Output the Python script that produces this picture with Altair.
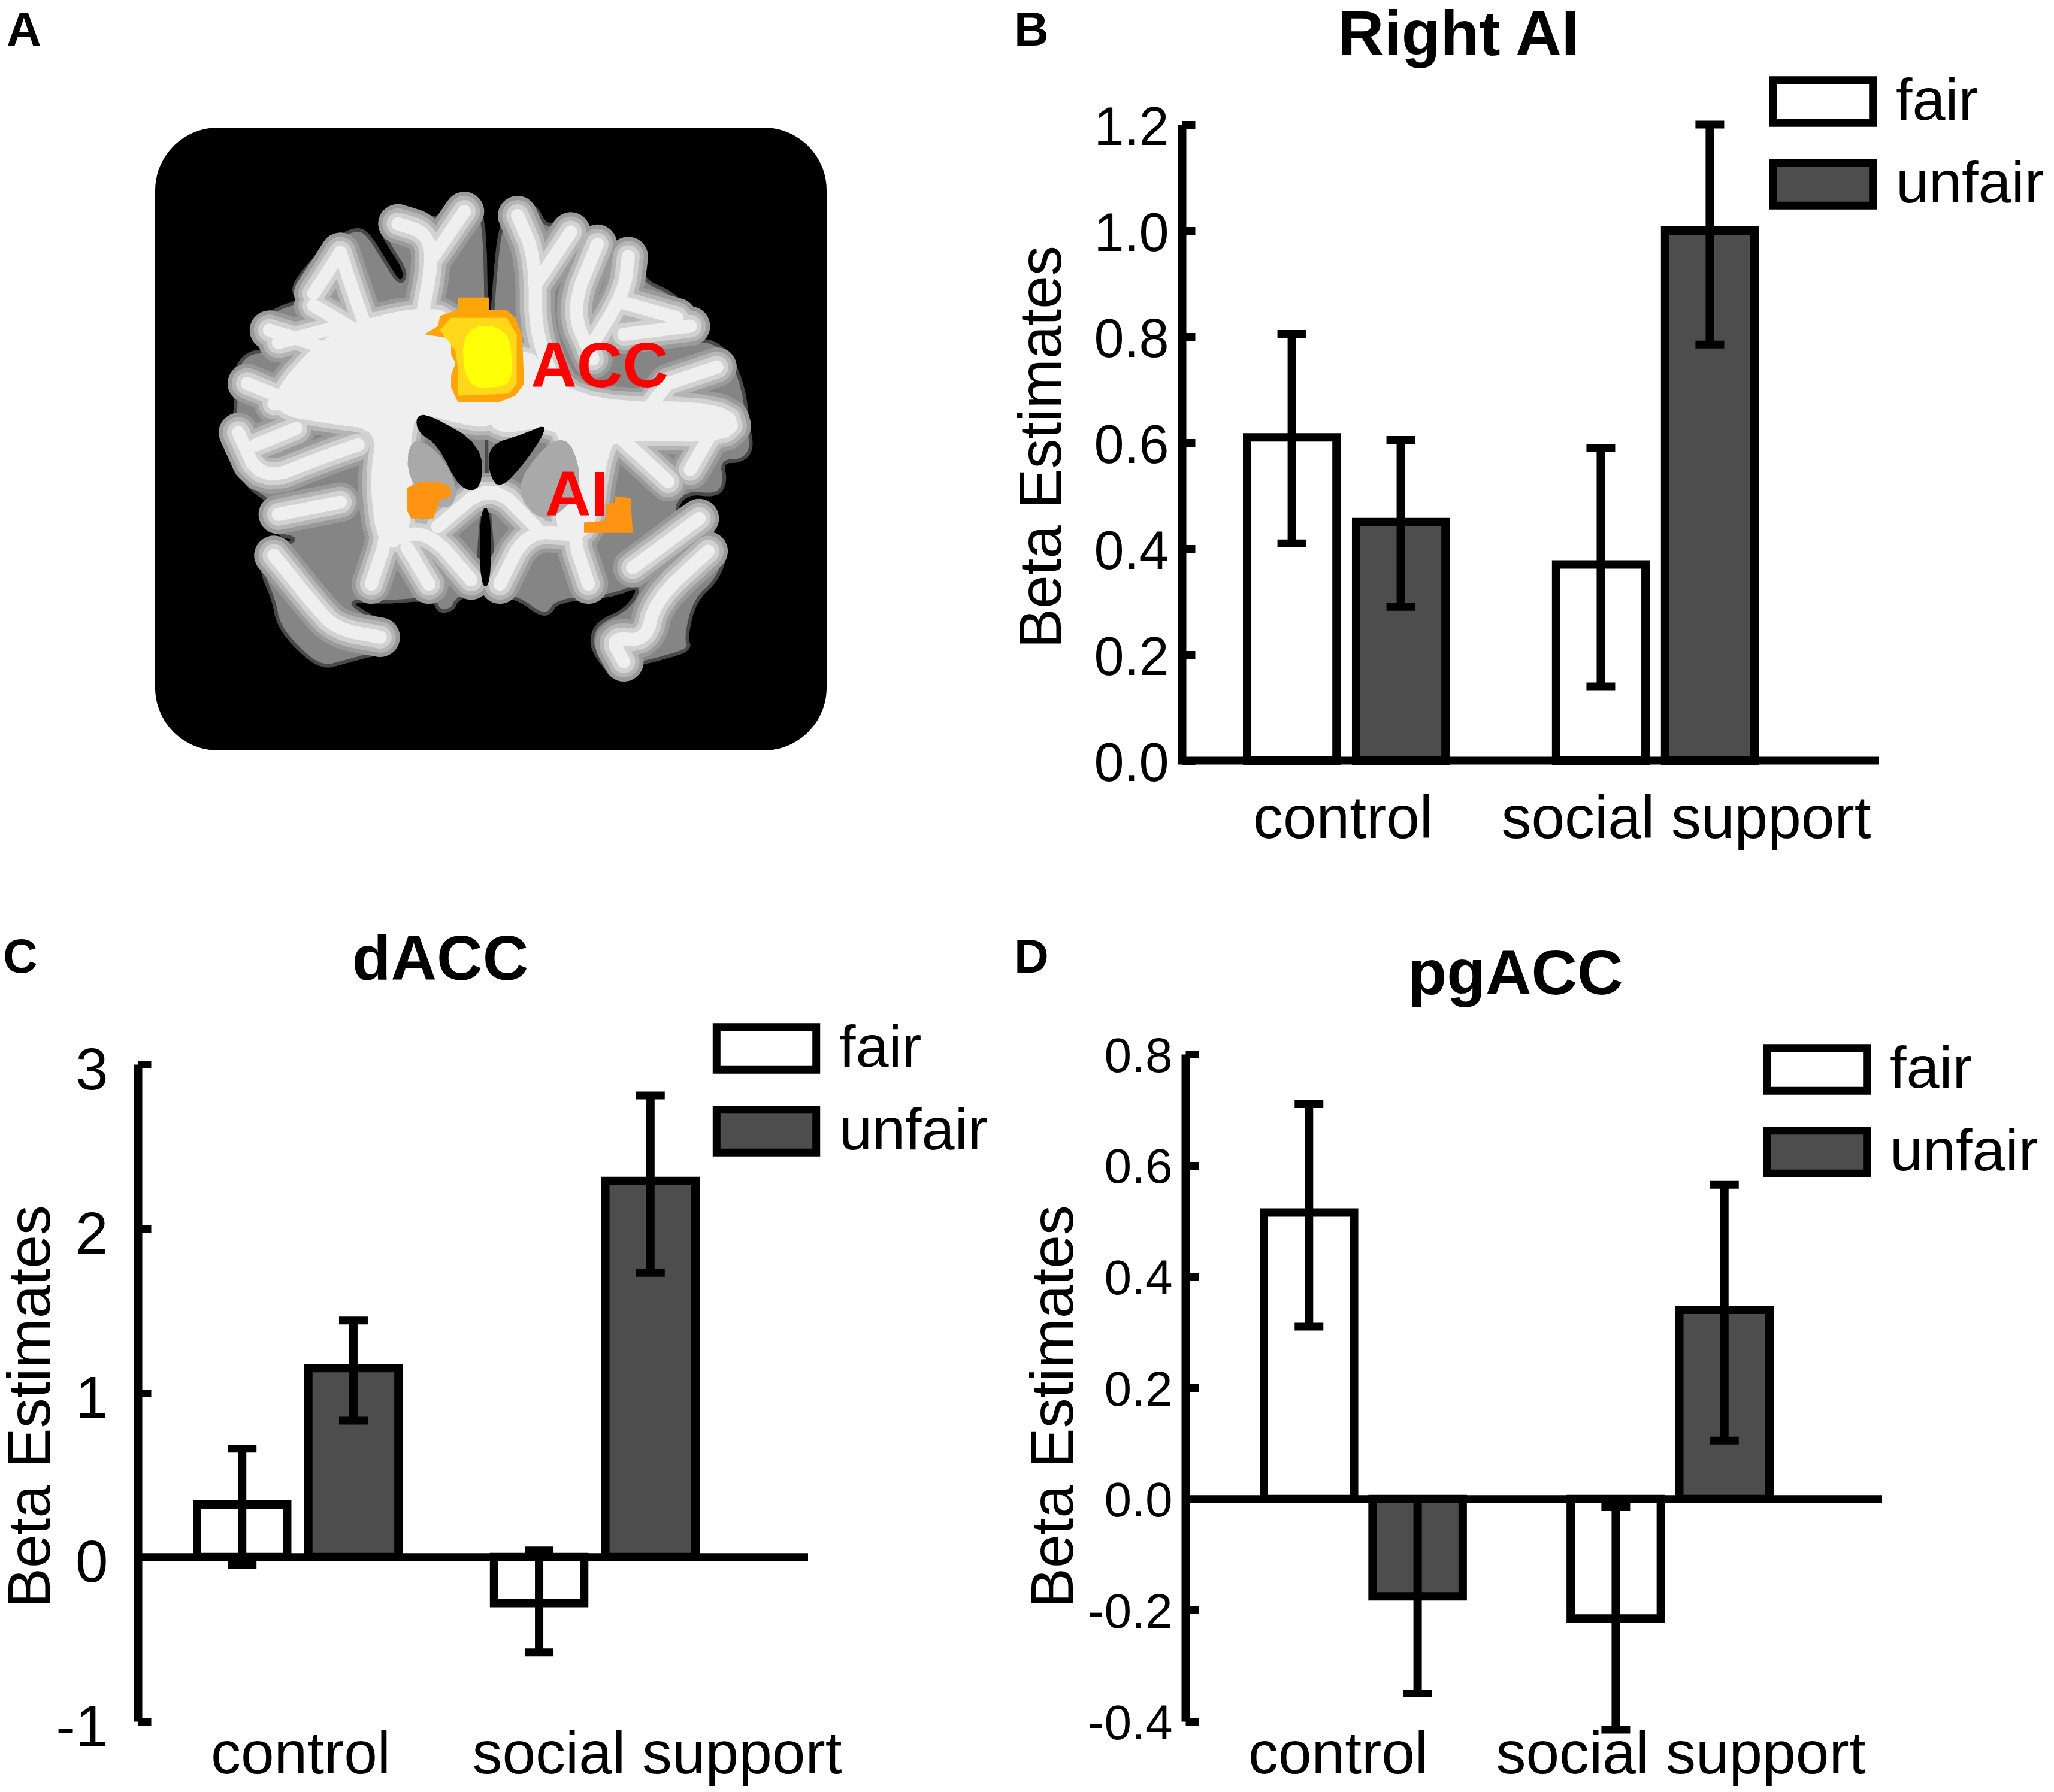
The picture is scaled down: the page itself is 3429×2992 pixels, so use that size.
import altair as alt
import pandas as pd

FONT = "Liberation Sans"
MARGIN = 8
W, H = 3429 - 2 * MARGIN, 2992 - 2 * MARGIN

CONDITIONS = ["fair", "unfair"]
GROUPS = ["control", "social support"]

# values, order: control fair, control unfair, social fair, social unfair
RIGHT_AI_MEAN = [0.61, 0.45, 0.37, 1.0]
RIGHT_AI_LOW = [0.41, 0.29, 0.14, 0.785]
RIGHT_AI_HIGH = [0.805, 0.605, 0.59, 1.2]
RIGHT_AI_TICKS = [0.0, 0.2, 0.4, 0.6, 0.8, 1.0, 1.2]

DACC_MEAN = [0.32, 1.15, -0.28, 2.29]
DACC_LOW = [-0.05, 0.83, -0.58, 1.73]
DACC_HIGH = [0.66, 1.44, 0.04, 2.81]
DACC_TICKS = [-1, 0, 1, 2, 3]

PGACC_MEAN = [0.515, -0.175, -0.215, 0.34]
PGACC_LOW = [0.31, -0.35, -0.415, 0.105]
PGACC_HIGH = [0.71, 0.0, -0.015, 0.565]
PGACC_TICKS = [-0.4, -0.2, 0.0, 0.2, 0.4, 0.6, 0.8]

# brain slice (crop coordinates, mapped to page below)
LEFT_HEMI = [(765,220),(730,190),(685,200),(665,240),(600,225),(545,232),(533,270),(555,310),(590,370),(575,400),
             (540,340),(500,270),(470,262),(420,295),(360,360),(330,410),(350,440),(300,455),(255,490),(245,535),
             (280,560),(230,565),(200,610),(205,680),(200,740),(190,790),(205,850),(240,900),(290,935),(280,970),
             (300,1010),(345,1020),(300,1040),(265,1060),(262,1100),(290,1170),(300,1230),(345,1290),(400,1335),
             (450,1320),(520,1300),(565,1290),(565,1240),(500,1205),(455,1170),(540,1175),(650,1165),(665,1200),
             (695,1190),(700,1170),(750,1140),(755,1000),(770,880),(775,700),(770,500)]
RIGHT_HEMI = [(790,350),(805,240),(840,200),(880,205),(905,260),(950,240),(990,255),(1000,290),(970,330),(1030,310),
              (1090,305),(1120,345),(1125,390),(1190,420),(1245,480),(1240,530),(1200,545),(1270,530),(1320,570),
              (1350,650),(1360,740),(1370,800),(1345,830),(1300,830),(1310,880),(1290,915),(1220,905),(1190,960),
              (1270,945),(1280,985),(1230,1040),(1300,1020),(1310,1060),(1290,1120),(1240,1170),(1220,1260),
              (1230,1290),(1170,1310),(1095,1330),(1060,1360),(1020,1310),(1005,1270),(1020,1225),(1090,1190),
              (1120,1130),(1050,1160),(930,1170),(910,1205),(885,1200),(850,1170),(790,1150),(780,1000),(770,880),
              (770,700)]
WHITE_MASS = [[(320,640),(430,520),(600,470),(700,480),(770,690),(780,735),(700,720),(640,700),(580,720),(590,1000),
               (540,1040),(520,880),(540,740),(400,720),(300,700)],
              [(790,690),(850,560),(900,620),(1000,700),(1310,700),(1330,770),(1060,760),(1030,800),(1000,1010),
               (930,1000),(960,760),(900,730),(790,750)]]
WHITE_MATTER = [
    [(570,700),(430,560),(280,510)], [(530,600),(470,420),(440,320)], [(620,500),(650,330),(630,270),(570,250)],
    [(650,330),(720,220)], [(290,690),(560,680),(770,730),(960,710),(1320,740)], [(230,640),(320,680)],
    [(960,700),(880,540),(880,330),(840,230)], [(880,400),(960,270)], [(1000,560),(1080,420),(1090,330)],
    [(1070,440),(1200,480)], [(565,720),(550,1000),(510,1130)], [(550,1020),(640,1000),(735,1120)],
    [(1000,740),(960,1000),(1000,1130)], [(970,1010),(860,1000),(800,1130)], [(290,1060),(380,1180),(430,1240),(530,1260)],
    [(1270,1050),(1150,1170),(1130,1270),(1050,1260),(1080,1320)], [(1100,1090),(1250,970)],
    [(210,760),(260,880),(400,820),(480,790)], [(300,960),(440,930)], [(590,1040),(640,1130)], [(1180,640),(1090,760)],
    [(660,990),(780,880),(880,990)], [(1180,640),(1290,600)], [(1080,520),(1230,500)], [(1060,760),(1180,880)],
    [(1230,850),(1300,720)], [(440,320),(380,420)], [(300,540),(440,500)], [(250,790),(340,750)],
    [(1020,300),(960,460),(1010,580)], [(380,450),(490,520)],
]
NUCLEI = [[(595,770),(660,800),(710,900),(680,960),(590,880)], [(900,790),(960,770),(990,900),(900,990),(830,900)]]
VENTRICLES = [[(610,720),(640,715),(760,790),(760,900),(710,900),(660,790),(615,760)],
              [(915,735),(860,830),(800,900),(775,860),(775,790),(850,765)],
              [(755,945),(780,945),(780,1135),(755,1135)]]
ACC_OUTER = [(705,430),(775,430),(775,460),(815,460),(835,480),(850,520),(855,640),(835,670),(800,685),(705,685),
             (690,650),(690,620),(700,590),(690,570),(690,530),(630,520),(660,500),(665,475),(705,460)]
ACC_MIDDLE = [(690,480),(815,480),(838,520),(838,640),(820,665),(705,670),(705,600),(700,560),(665,510)]
ACC_INNER = [(715,500),(820,500),(830,620),(810,650),(720,650)]
AI_LEFT = [(590,895),(620,880),(665,880),(690,895),(690,915),(665,925),(650,970),(600,970),(590,950)]
AI_RIGHT = [(1060,915),(1095,920),(1100,1005),(990,1005),(990,980),(1040,975),(1040,935),(1060,930)]


def page(p):
    # crop coordinates to canvas pixels
    return [259 - MARGIN + (p[0] - 22) / 1.352, 213 - MARGIN + (p[1] - 15) / 1.463]


def rounded(ring, closed=True):
    # corner cutting, so the traced outlines lose their kinks
    pts = list(ring)
    for _ in range(2):
        out = []
        n = len(pts) if closed else len(pts) - 1
        for i in range(n):
            a, b = pts[i], pts[(i + 1) % len(pts)]
            out.append((a[0] * 0.75 + b[0] * 0.25, a[1] * 0.75 + b[1] * 0.25))
            out.append((a[0] * 0.25 + b[0] * 0.75, a[1] * 0.25 + b[1] * 0.75))
        pts = out if closed else [pts[0]] + out + [pts[-1]]
    return pts


def polygons(rings, smooth=False):
    rings = [rounded(r) if smooth else r for r in rings]
    return alt.Data(values=[{"type": "Feature", "properties": {},
                             "geometry": {"type": "Polygon", "coordinates": [[page(q) for q in r + r[:1]]]}}
                            for r in rings])


def lines(paths):
    return alt.Data(values=[{"type": "Feature", "properties": {},
                             "geometry": {"type": "LineString", "coordinates": [page(q) for q in rounded(r, False)]}}
                            for r in paths])


def flat(chart):
    return chart.project(type="identity", scale=1, translate=[0, 0])


def label(text, x, y, size, bold=True, color="black"):
    return alt.Chart(pd.DataFrame({"t": [text]})).mark_text(
        font=FONT, fontSize=size, fontWeight="bold" if bold else "normal", color=color, align="center", baseline="middle"
    ).encode(text="t:N", x=alt.value(x - MARGIN), y=alt.value(y - MARGIN))


def panel_a():
    out = [alt.Chart(pd.DataFrame({"a": [0]})).mark_rect(color="black", cornerRadius=105).encode(
        x=alt.value(259 - MARGIN), x2=alt.value(1380 - MARGIN), y=alt.value(213 - MARGIN), y2=alt.value(1253 - MARGIN))]
    out.append(flat(alt.Chart(polygons([LEFT_HEMI, RIGHT_HEMI], True)).mark_geoshape(
        fill="#858585", stroke="#4a4a4a", strokeWidth=6, strokeJoin="round")))
    for width, color in [(66, "#9a9a9a"), (52, "#b5b5b5"), (38, "#d2d2d2"), (22, "#efefef")]:
        out.append(flat(alt.Chart(polygons(WHITE_MASS, True)).mark_geoshape(
            fill=color, stroke=color, strokeWidth=width, strokeJoin="round")))
        out.append(flat(alt.Chart(lines(WHITE_MATTER)).mark_geoshape(
            filled=False, stroke=color, strokeWidth=width, strokeCap="round", strokeJoin="round")))
    out.append(flat(alt.Chart(polygons(NUCLEI, True)).mark_geoshape(fill="#a9a9a9")))
    out.append(flat(alt.Chart(polygons(VENTRICLES, True)).mark_geoshape(fill="black")))
    out.append(flat(alt.Chart(polygons([ACC_OUTER])).mark_geoshape(fill="#ffa50a")))
    out.append(flat(alt.Chart(polygons([ACC_MIDDLE])).mark_geoshape(fill="#ffd81a")))
    out.append(flat(alt.Chart(polygons([ACC_INNER], True)).mark_geoshape(fill="#ffff08")))
    out.append(flat(alt.Chart(polygons([AI_LEFT, AI_RIGHT])).mark_geoshape(fill="#ff9412")))
    out.append(label("ACC", 1001, 614, 106, color="#ff0000"))
    out.append(label("AI", 963, 829, 106, color="#ff0000"))
    return out


def bar_panel(mean, low, high, ticks, domain, fmt, ax_x, ax_end, y_range, bar_range, pads, cat_centers, cat_y,
              legend_xy, label_pad, label_off, label_size, title_x, title_y):
    df = pd.DataFrame({
        "group": [GROUPS[0], GROUPS[0], GROUPS[1], GROUPS[1]],
        "condition": CONDITIONS * 2,
        "mean": mean, "low": low, "high": high,
    })
    y_r = [y_range[0] - MARGIN, y_range[1] - MARGIN]
    y_scale = alt.Scale(domain=domain, range=y_r, nice=False, zero=False)
    x_kw = alt.Scale(domain=GROUPS, range=[bar_range[0] - MARGIN, bar_range[1] - MARGIN], paddingInner=pads[0], paddingOuter=0)
    off_kw = alt.Scale(domain=CONDITIONS, paddingInner=pads[1], paddingOuter=0)
    x = alt.X("group:N", sort=GROUPS, scale=x_kw, axis=None)
    off = alt.XOffset("condition:N", sort=CONDITIONS, scale=off_kw)

    left_axis = alt.Axis(
        orient="left", offset=-(ax_x - MARGIN), values=ticks, format=fmt,
        labelExpr="replace(datum.label, '\u2212', '-')", grid=False, ticks=False, tickSize=0,
        labelPadding=label_pad, labelOffset=label_off, labelFontSize=label_size, labelFont=FONT, labelColor="black",
        labelOverlap=False, labelFlush=False, labelLimit=800,
        domainColor="black", domainWidth=14, title="Beta Estimates", titleFont=FONT, titleFontSize=100,
        titleFontWeight="normal", titleColor="black", titleAngle=270, titleAlign="center", titleBaseline="middle",
        titleX=-(ax_x - title_x), titleY=title_y - MARGIN, titleLimit=2000,
    )
    tick_axis = alt.Axis(
        orient="right", offset=(ax_x - MARGIN) - W, values=ticks, grid=False, labels=False, domain=False,
        tickColor="black", tickWidth=13, tickSize=22, title=None,
    )

    bars = alt.Chart(df).mark_bar(stroke="black", strokeWidth=14).encode(
        x=x, xOffset=off,
        y=alt.Y("mean:Q", scale=y_scale, axis=left_axis, stack=None),
        fill=alt.Fill("condition:N", sort=CONDITIONS,
                      scale=alt.Scale(domain=CONDITIONS, range=["white", "#4d4d4d"]),
                      legend=alt.Legend(
                          orient="none", legendX=legend_xy[0] - MARGIN, legendY=legend_xy[1] - MARGIN, title=None,
                          symbolType="M-2,-0.86H2V0.86H-2Z", symbolSize=6925, symbolStrokeColor="black",
                          symbolStrokeWidth=13, labelFont=FONT, labelFontSize=99, labelColor="black",
                          labelOffset=72, rowPadding=13, labelLimit=600, padding=0)),
    )
    tick_layer = alt.Chart(df).mark_point(opacity=0).encode(x=x, y=alt.Y("mean:Q", scale=y_scale, axis=tick_axis))
    base = alt.Chart(pd.DataFrame({"v": [0]})).mark_rule(color="black", strokeWidth=13).encode(
        y=alt.Y("v:Q", scale=y_scale, axis=None), x=alt.value(ax_x - 6 - MARGIN), x2=alt.value(ax_end - MARGIN))
    whisk = alt.Chart(df).mark_rule(color="black", strokeWidth=14).encode(
        x=x, xOffset=off, y=alt.Y("low:Q", scale=y_scale, axis=None), y2="high:Q")
    caps = [alt.Chart(df).mark_tick(color="black", size=48, thickness=13, opacity=1).encode(
        x=x, xOffset=off, y=alt.Y(f + ":Q", scale=y_scale, axis=None)) for f in ("low", "high")]

    step = cat_centers[1] - cat_centers[0]
    cats = alt.Chart(pd.DataFrame({"group": GROUPS})).mark_point(opacity=0).encode(
        x=alt.X("group:N", sort=GROUPS, axis=alt.Axis(
            orient="bottom", offset=cat_y - MARGIN - H, domain=False, ticks=False, tickSize=0, labelPadding=0,
            labelAngle=0, labelFont=FONT, labelFontSize=100, labelColor="black", labelLimit=1200, title=None,
            grid=False, labelOverlap=False, labelFlush=False),
            scale=alt.Scale(type="band", domain=GROUPS, padding=0,
                            range=[cat_centers[0] - step / 2 - MARGIN, cat_centers[1] + step / 2 - MARGIN])),
    )
    return [bars, base, tick_layer, whisk] + caps + [cats]


layers = panel_a()
layers += bar_panel(RIGHT_AI_MEAN, RIGHT_AI_LOW, RIGHT_AI_HIGH, RIGHT_AI_TICKS, [0, 1.2], ".1f",
                    1973, 3137, [1270, 208], [2082, 2929], (0.358, 0.18), [2242, 2815], 1319, [2994, 120],
                    22, 6, 90, 1740, 746)
layers += bar_panel(DACC_MEAN, DACC_LOW, DACC_HIGH, DACC_TICKS, [-1, 3], "d",
                    230, 1349, [2874, 1777], [329, 1161], (0.322, 0.19), [502, 1097], 2881, [1230, 1701],
                    50, 12, 98, 52, 2348)
layers += bar_panel(PGACC_MEAN, PGACC_LOW, PGACC_HIGH, PGACC_TICKS, [-0.4, 0.8], ".1f",
                    1979, 3142, [2874, 1760], [2110, 2954], (0.352, 0.17), [2234, 2806], 2881, [2984, 1736],
                    22, 4, 82, 1760, 2348)
for text, x, y in [("A", 40, 52), ("B", 1722, 52), ("C", 34, 1600), ("D", 1722, 1600)]:
    layers.append(label(text, x, y, 80))
for text, x, y in [("Right AI", 2435, 60), ("dACC", 735, 1604), ("pgACC", 2530, 1628)]:
    layers.append(label(text, x, y, 106))

chart = alt.layer(*layers).resolve_scale(
    x="independent", y="independent", xOffset="independent", fill="independent"
).resolve_axis(x="independent", y="independent").resolve_legend(fill="independent").properties(
    width=W, height=H, padding=0, autosize=alt.AutoSizeParams(type="none"), background="white"
).configure_view(stroke=None)

chart.save("out.html", embed_options={"renderer": "svg", "actions": False})
